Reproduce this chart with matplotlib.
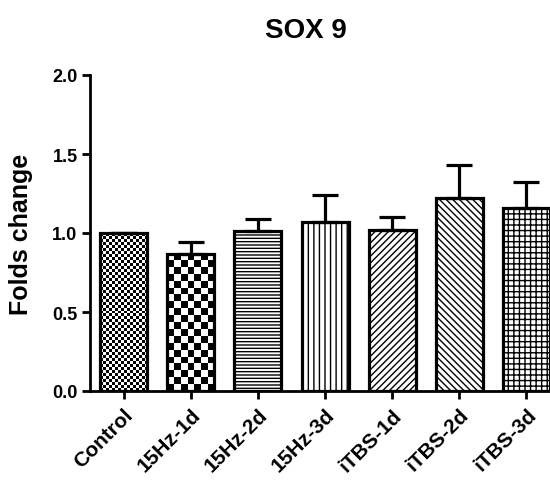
import numpy as np
import matplotlib
matplotlib.use("Agg")
import matplotlib.pyplot as plt

categories = ["Control", "15Hz-1d", "15Hz-2d", "15Hz-3d", "iTBS-1d", "iTBS-2d", "iTBS-3d"]
values = [1.00, 0.87, 1.01, 1.07, 1.02, 1.22, 1.16]
errors = [0.00, 0.07, 0.08, 0.17, 0.08, 0.21, 0.16]
hatches = [None, None, "-----", "|||", "/////", "\\\\\\\\\\", "+++"]
checker_px = [3, 7, None, None, None, None, None]

plt.rcParams["font.family"] = ["Liberation Sans", "DejaVu Sans"]
plt.rcParams["font.weight"] = "bold"
plt.rcParams["hatch.linewidth"] = 1.0

fig = plt.figure(figsize=(5.5, 4.85), dpi=100)
ax = fig.add_axes([90/550, 1-392/485, 1-90/550, (392-76)/485])

x = np.arange(len(categories))
bars = ax.bar(x, values, width=0.7, facecolor="none", edgecolor="black",
              linewidth=2.3, zorder=3)
for b, h in zip(bars, hatches):
    if h:
        b.set_hatch(h)

ax.set_xlim(-0.5, 6.35)
ax.set_ylim(0, 2.0)

fig.canvas.draw()
for b, c in zip(bars, checker_px):
    if c is None:
        continue
    x0, y0 = b.get_x(), 0
    x1, y1 = b.get_x() + b.get_width(), b.get_height()
    p0 = ax.transData.transform((x0, y0))
    p1 = ax.transData.transform((x1, y1))
    nx = max(1, int(round(abs(p1[0]-p0[0]) / c)))
    ny = max(1, int(round(abs(p1[1]-p0[1]) / c)))
    grid = (np.add.outer(np.arange(ny), np.arange(nx)) % 2).astype(float)
    im = ax.imshow(grid, extent=(x0, x1, y0, y1), origin="lower",
                   cmap="gray", vmin=0, vmax=1, aspect="auto",
                   interpolation="nearest", zorder=2)
    im.set_clip_path(b)

ax.set_xlim(-0.5, 6.35)
ax.set_ylim(0, 2.0)

ax.errorbar(x, values, yerr=[np.zeros(len(values)), errors], fmt="none",
            ecolor="black", elinewidth=2.3, capsize=9.5, capthick=2.3, zorder=2.5)

for s in ["top", "right"]:
    ax.spines[s].set_visible(False)
for s in ["left", "bottom"]:
    ax.spines[s].set_linewidth(2.0)

ax.set_yticks([0.0, 0.5, 1.0, 1.5, 2.0])
ax.set_yticklabels(["0.0", "0.5", "1.0", "1.5", "2.0"])
ax.tick_params(axis="both", width=2.0, length=6)
ax.tick_params(axis="y", labelsize=13, pad=3)
ax.tick_params(axis="x", labelsize=15, pad=4)
ax.set_xticks(x)
ax.set_xticklabels(categories, rotation=45, ha="right", rotation_mode="anchor")
ax.set_ylabel("Folds change", fontsize=18, fontweight="bold")
ax.yaxis.set_label_coords(-0.124, 0.5)
ax.set_title("SOX 9", fontsize=20, fontweight="bold", x=0.47, pad=27)

fig.savefig("out.png", dpi=100)
